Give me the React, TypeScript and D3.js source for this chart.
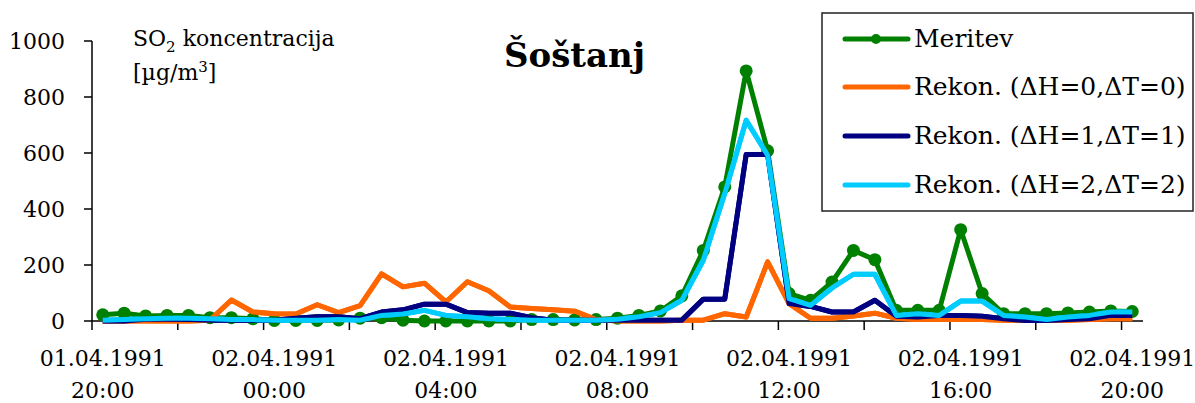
import React from "react";
import * as d3 from "d3";

const xLabelsTop = ["01.04.1991", "02.04.1991", "02.04.1991", "02.04.1991", "02.04.1991", "02.04.1991", "02.04.1991"];
const xLabelsBottom = ["20:00", "00:00", "04:00", "08:00", "12:00", "16:00", "20:00"];
const yTicks = [0, 200, 400, 600, 800, 1000];

// half-hourly values, 01.04.1991 20:00 .. 02.04.1991 20:00 (49 points)
const meritev = [22, 28, 18, 20, 20, 12, 12, 8, 2, 2, 2, 4, 10, 12, 3, 0, 0, 0, 0, 0, 5, 5, 4, 5, 10, 20, 36, 90, 252, 479, 893, 608, 98, 74, 139, 252, 219, 38, 38, 38, 326, 98, 26, 26, 26, 29, 32, 36, 34];
const rekon0 = [0, 0, 0, 0, 0, 3, 75, 32, 26, 25, 58, 30, 55, 168, 122, 135, 68, 140, 108, 50, 45, 40, 35, 5, 0, 0, 0, 3, 3, 26, 14, 211, 62, 10, 10, 18, 28, 10, 5, 5, 5, 5, 3, 3, 3, 3, 5, 8, 8];
const rekon1 = [0, 0, 6, 6, 5, 3, 3, 3, 3, 10, 15, 15, 8, 32, 40, 60, 60, 30, 28, 28, 12, 3, 3, 3, 3, 3, 3, 3, 78, 78, 595, 595, 62, 52, 32, 32, 74, 17, 14, 20, 20, 17, 8, 2, 2, 5, 8, 20, 20];
const rekon2 = [3, 5, 8, 10, 10, 8, 5, 5, 3, 3, 3, 5, 3, 20, 25, 38, 20, 15, 8, 5, 3, 3, 3, 3, 6, 15, 30, 74, 217, 455, 717, 592, 80, 56, 118, 167, 167, 20, 26, 20, 71, 71, 20, 14, 5, 14, 20, 32, 32];

const seriesNames = ["Meritev", "Rekon. (\u0394H=0,\u0394T=0)", "Rekon. (\u0394H=1,\u0394T=1)", "Rekon. (\u0394H=2,\u0394T=2)"];
const seriesColors = ["#008000", "#FF6600", "#000080", "#00CCFF"];

const FONT = "'DejaVu Serif', serif";

export default function App() {
  const W = 1195, H = 403;
  const n = meritev.length;
  const x = d3.scaleLinear().domain([-0.5, n - 0.5]).range([92, 1143]);
  const y = d3.scaleLinear().domain([0, 1000]).range([321, 41]);
  const line = d3.line<number>().x((_, i) => x(i)).y((d) => y(d));
  const series = [meritev, rekon0, rekon1, rekon2];
  const tickIdx = d3.range(0, n + 1, 4).map((k) => k - 0.5);
  const labelIdx = d3.range(0, n, 8);
  const legendRows = [39, 87, 136, 185];

  return (
    <svg width={W} height={H} style={{ position: "absolute", left: 0, top: 0, background: "#fff" }} fontFamily={FONT}>
      <rect x={0} y={0} width={W} height={H} fill="#fff" />
      {/* axes */}
      <line x1={92} x2={92} y1={y(1000)} y2={y(0)} stroke="#000" strokeWidth={1.5} />
      <line x1={92} x2={1143} y1={y(0)} y2={y(0)} stroke="#000" strokeWidth={1.5} />
      {yTicks.map((t) => (
        <g key={t}>
          <line x1={84} x2={92} y1={y(t)} y2={y(t)} stroke="#000" strokeWidth={1.5} />
          <text x={65} y={y(t) + 8} textAnchor="end" fontSize={22} fill="#000">{t}</text>
        </g>
      ))}
      {tickIdx.map((t) => (
        <line key={t} x1={x(t)} x2={x(t)} y1={y(0)} y2={y(0) + 9} stroke="#000" strokeWidth={1.5} />
      ))}
      {labelIdx.map((t, k) => (
        <g key={t}>
          <text x={x(t)} y={366} textAnchor="middle" fontSize={22} fill="#000">{xLabelsTop[k]}</text>
          <text x={x(t)} y={398} textAnchor="middle" fontSize={22} fill="#000">{xLabelsBottom[k]}</text>
        </g>
      ))}
      {/* series */}
      {series.map((s, si) => (
        <path key={si} d={line(s) || ""} fill="none" stroke={seriesColors[si]} strokeWidth={5} strokeLinejoin="round" />
      ))}
      {meritev.map((v, i) => (
        <circle key={i} cx={x(i)} cy={y(v)} r={6.5} fill={seriesColors[0]} />
      ))}
      {/* redraw lines above markers */}
      {series.slice(1).map((s, si) => (
        <path key={"o" + si} d={line(s) || ""} fill="none" stroke={seriesColors[si + 1]} strokeWidth={5} strokeLinejoin="round" />
      ))}
      {/* axis label */}
      <text x={133} y={46} fontSize={22} fill="#000">
        SO<tspan dy={6} fontSize={15}>2</tspan><tspan dy={-6}> koncentracija</tspan>
      </text>
      <text x={133} y={80} fontSize={22} fill="#000">
        [µg/m<tspan dy={-8} fontSize={15}>3</tspan><tspan dy={8}>]</tspan>
      </text>
      {/* title */}
      <text x={504} y={67} fontSize={34} fontWeight="bold" fill="#000">Šoštanj</text>
      {/* legend */}
      <rect x={822} y={13} width={371} height={198} fill="#fff" stroke="#222" strokeWidth={1.5} />
      {seriesNames.map((name, k) => (
        <g key={k}>
          <line x1={845} x2={908} y1={legendRows[k]} y2={legendRows[k]} stroke={seriesColors[k]} strokeWidth={5} strokeLinecap="round" />
          {k === 0 && <circle cx={876} cy={legendRows[k]} r={5} fill={seriesColors[0]} />}
          <text x={914} y={legendRows[k] + 8} fontSize={25} fill="#000">{name}</text>
        </g>
      ))}
    </svg>
  );
}
